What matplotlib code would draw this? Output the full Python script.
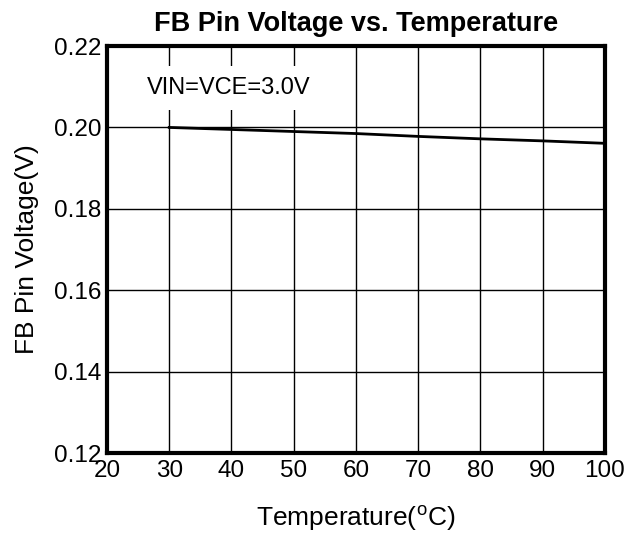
import matplotlib
matplotlib.use("Agg")
import matplotlib.pyplot as plt

# data
temperature = [30, 40, 50, 60, 70, 80, 90, 100]
fb_voltage = [0.2000, 0.1995, 0.1990, 0.1985, 0.1978, 0.1972, 0.1967, 0.1961]
x_ticks = [20, 30, 40, 50, 60, 70, 80, 90, 100]
y_ticks = [0.12, 0.14, 0.16, 0.18, 0.20, 0.22]

plt.rcParams["font.family"] = ["Liberation Sans", "DejaVu Sans"]

fig = plt.figure(figsize=(6.26, 5.35), dpi=100)
ax = fig.add_axes([0.171, 0.153, 0.795, 0.761])

ax.plot(temperature, fb_voltage, color="black", lw=2, zorder=3)

ax.set_xlim(20, 100)
ax.set_ylim(0.12, 0.22)
ax.set_xticks(x_ticks)
ax.set_yticks(y_ticks)
ax.set_yticklabels([f"{v:.2f}" for v in y_ticks])
ax.tick_params(length=0, labelsize=17.5)
ax.tick_params(axis="x", pad=5)
ax.tick_params(axis="y", pad=4)
ax.grid(True, color="black", lw=1)
for s in ax.spines.values():
    s.set_linewidth(3)
    s.set_zorder(4)

ax.set_xlabel("Temperature($^\\mathregular{o}$C)", fontsize=19, labelpad=15)
ax.set_ylabel("FB Pin Voltage(V)", fontsize=19, labelpad=11)
ax.set_title("FB Pin Voltage vs. Temperature", fontsize=19.5, fontweight="bold", pad=11)

ax.text(0.08, 0.897, "VIN=VCE=3.0V", transform=ax.transAxes, fontsize=17,
        va="center", ha="left", zorder=5,
        bbox=dict(facecolor="white", edgecolor="none", pad=8))

fig.savefig("out.png", dpi=100)
